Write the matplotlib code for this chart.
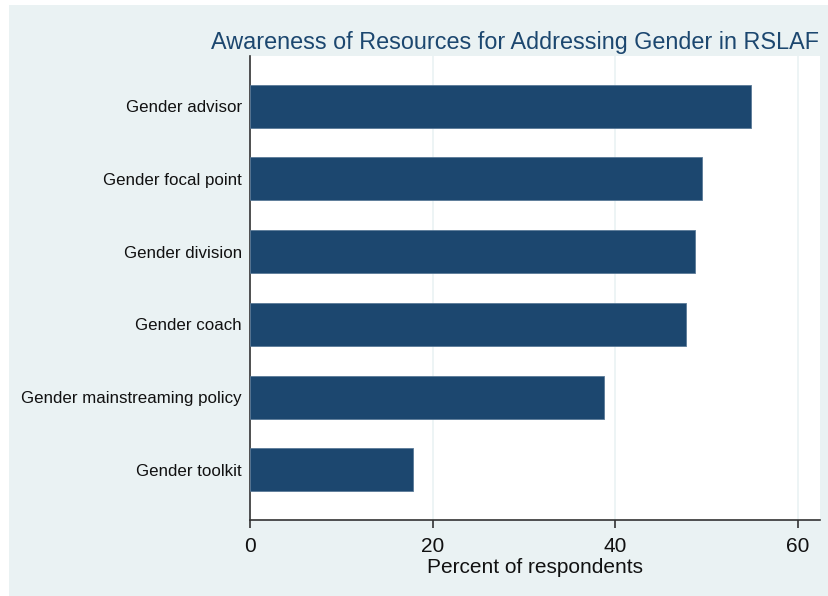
import matplotlib
matplotlib.use("Agg")
import matplotlib.pyplot as plt
from matplotlib.patches import Rectangle

categories = ["Gender advisor", "Gender focal point", "Gender division",
              "Gender coach", "Gender mainstreaming policy", "Gender toolkit"]
values = [54.9, 49.5, 48.7, 47.7, 38.8, 17.8]
xticks = [0, 20, 40, 60]

navy = "#1c476f"
panel = "#eaf2f3"

plt.rcParams["font.family"] = ["Liberation Sans", "DejaVu Sans"]

fig = plt.figure(figsize=(8.29, 5.96), dpi=100)
fig.patch.set_facecolor("white")
# light graph region behind the plot
fig.add_artist(Rectangle((9 / 829, 0), 1 - 9 / 829, 1 - 5 / 596,
                         transform=fig.transFigure, facecolor=panel,
                         edgecolor="none", zorder=-10))

ax = fig.add_axes([250 / 829, 1 - 520 / 596, (820 - 250) / 829, (520 - 56) / 596])
ax.set_facecolor("white")

ypos = list(range(len(categories)))
ax.barh(ypos, values, height=0.59, color=navy, edgecolor="#5a7a98",
        linewidth=0.6, zorder=3)

ax.set_ylim(len(categories) - 1 + 0.69, -0.69)
ax.set_xlim(0, 62.4)
ax.set_yticks(ypos)
ax.set_yticklabels(categories, fontsize=12.2, color="#111111")
ax.tick_params(axis="y", length=0, pad=6)
ax.set_xticks(xticks)
ax.set_xticklabels([str(t) for t in xticks], fontsize=15, color="#111111")
ax.tick_params(axis="x", length=6, width=1.2, color="#333333", pad=6)

ax.grid(axis="x", color=panel, linewidth=1.2, zorder=0)
ax.set_axisbelow(True)

for side in ("top", "right"):
    ax.spines[side].set_visible(False)
for side in ("left", "bottom"):
    ax.spines[side].set_color("#333333")
    ax.spines[side].set_linewidth(1.2)

ax.set_xlabel("Percent of respondents", fontsize=15, color="#111111", labelpad=1.5)
fig.text(515 / 829, 1 - 42 / 596, "Awareness of Resources for Addressing Gender in RSLAF",
         ha="center", va="center", fontsize=16.8, color=navy)

fig.savefig("out.png", dpi=100, facecolor=fig.get_facecolor())
